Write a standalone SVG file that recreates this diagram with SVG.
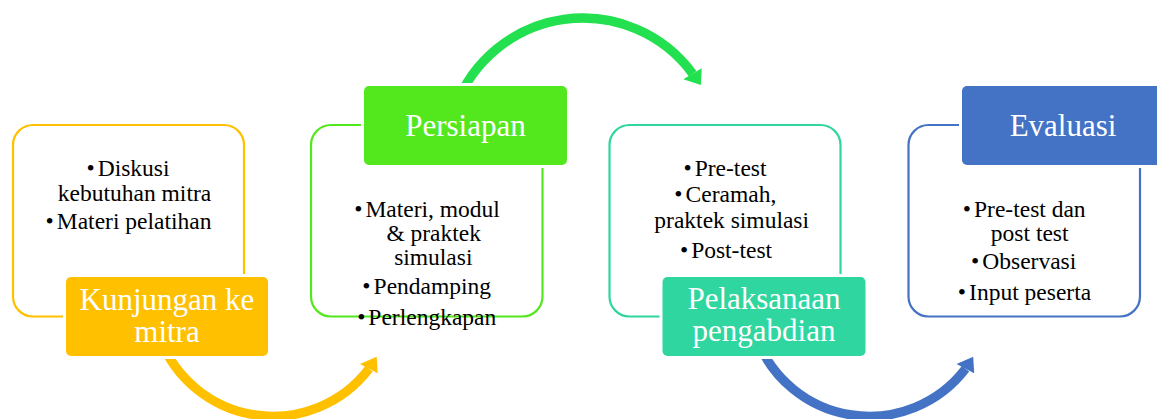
<svg xmlns="http://www.w3.org/2000/svg" width="1157" height="419" viewBox="0 0 1157 419">
<style>
.box{fill:#FFFFFF;stroke-width:2.2}
.lbl{paint-order:stroke;stroke:#FFFFFF;stroke-width:6}
.t{font-family:"Liberation Serif","Times New Roman",serif;font-size:23.5px;fill:#000000;text-anchor:middle}
.h{font-family:"Liberation Serif","Times New Roman",serif;font-size:31px;fill:#FFFFFF;text-anchor:middle}
.arc{fill:none;stroke-width:9.3}
</style>
<rect width="1157" height="419" fill="#FFFFFF"/>
<g id="connectors">
  <path class="arc" stroke="#FFC000" d="M159.6,336.9 A120.7,120.7 0 0 0 369,368.8"/>
  <polygon fill="#FFC000" points="360,364 376.7,356.7 377.7,373.3"/>
  <path class="arc" stroke="#22E04F" d="M455.2,107.5 A136,136 0 0 1 692.7,73.7"/>
  <polygon fill="#22E04F" points="683.3,79.3 701.7,68.3 700.9,85"/>
  <path class="arc" stroke="#4472C4" d="M756.1,336.9 A120.7,120.7 0 0 0 965.5,368.8"/>
  <polygon fill="#4472C4" points="956.5,364 973.2,356.7 974.2,373.3"/>
</g>
<g id="node-kunjungan">
  <rect class="box" x="13" y="125" width="231" height="191.5" rx="20" stroke="#FFC000"/>
  <text class="t" x="128" y="176">•<tspan dx="3">Diskusi</tspan></text>
  <text class="t" x="134.5" y="200.5">kebutuhan mitra</text>
  <text class="t" x="128.5" y="229">•<tspan dx="3">Materi pelatihan</tspan></text>
  <rect class="lbl" x="66" y="277" width="202" height="79" rx="5" fill="#FFC000"/>
  <text class="h" x="167" y="310">Kunjungan ke</text>
  <text class="h" x="167" y="341.7">mitra</text>
</g>
<g id="node-persiapan">
  <rect class="box" x="311" y="125" width="231.5" height="191.5" rx="20" stroke="#53E81E"/>
  <rect class="lbl" x="364" y="86" width="203" height="79" rx="5" fill="#53E81E"/>
  <text class="h" x="465.5" y="136">Persiapan</text>
  <text class="t" x="427" y="216.7">•<tspan dx="3">Materi, modul</tspan></text>
  <text class="t" x="433.7" y="240.7">&amp; praktek</text>
  <text class="t" x="433.3" y="265">simulasi</text>
  <text class="t" x="426.7" y="294">•<tspan dx="3">Pendamping</tspan></text>
  <text class="t" x="426.7" y="325">•<tspan dx="3">Perlengkapan</tspan></text>
</g>
<g id="node-pelaksanaan">
  <rect class="box" x="609.5" y="125" width="231" height="191.5" rx="20" stroke="#2FD6A0"/>
  <text class="t" x="725" y="175.7">•<tspan dx="3">Pre-test</tspan></text>
  <text class="t" x="725.3" y="201.7">•<tspan dx="3">Ceramah,</tspan></text>
  <text class="t" x="731.7" y="228.3">praktek simulasi</text>
  <text class="t" x="726" y="258.3">•<tspan dx="3">Post-test</tspan></text>
  <rect class="lbl" x="662.5" y="277" width="203" height="79" rx="5" fill="#2FD6A0"/>
  <text class="h" x="764" y="309.3">Pelaksanaan</text>
  <text class="h" x="764" y="340.5">pengabdian</text>
</g>
<g id="node-evaluasi">
  <rect class="box" x="908.5" y="125" width="231.5" height="191.5" rx="20" stroke="#4472C4"/>
  <rect class="lbl" x="962" y="86" width="202" height="79" rx="5" fill="#4472C4"/>
  <text class="h" x="1063" y="135.7">Evaluasi</text>
  <text class="t" x="1024.2" y="216.7">•<tspan dx="3">Pre-test dan</tspan></text>
  <text class="t" x="1029.7" y="240.7">post test</text>
  <text class="t" x="1023.7" y="269.3">•<tspan dx="3">Observasi</tspan></text>
  <text class="t" x="1024.5" y="300">•<tspan dx="3">Input peserta</tspan></text>
</g>
</svg>
